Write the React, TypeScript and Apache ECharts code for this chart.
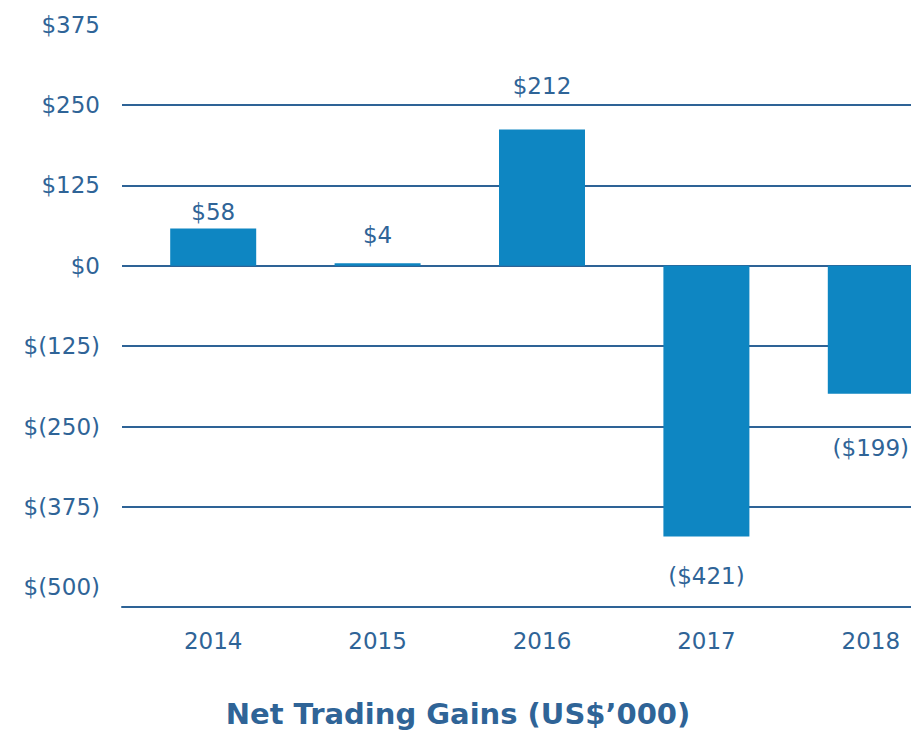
import React, { useEffect, useRef } from "react";
import * as echarts from "echarts";

const years = ["2014", "2015", "2016", "2017", "2018"];
const gains = [58, 4, 212, -421, -199];
const yMin = -500;
const yMax = 375;
const yStep = 125;
const titleText = "Net Trading Gains (US$’000)";

const TEXT = "#2f6497";
const LINE = "#2e6396";
const BAR = "#0e86c2";
const FONT = "DejaVu Sans";
// label gaps from bar ends (styling only)
const LABEL_GAP = [5, 17, 32, 28, 43];

const axisFmt = (v: number) => (v >= 0 ? `$${v}` : `$(${-v})`);
const barFmt = (v: number) => (v >= 0 ? `$${v}` : `($${-v})`);

export default function App() {
  const ref = useRef<HTMLDivElement>(null);
  useEffect(() => {
    if (!ref.current) return;
    const chart = echarts.init(ref.current, null, { renderer: "svg" });
    const top = 24.6;
    const height = 562.8;
    chart.setOption({
      animation: false,
      backgroundColor: "#ffffff",
      textStyle: { fontFamily: FONT },
      title: {
        text: titleText,
        left: 458,
        textAlign: "center",
        top: 699,
        padding: 0,
        textStyle: { fontFamily: FONT, fontSize: 29, lineHeight: 29, fontWeight: "bold", color: TEXT },
      },
      grid: [
        { left: 122, top, height, width: 900 },
        { left: 131, top, height, width: 822 },
      ],
      xAxis: [
        {
          gridIndex: 0,
          type: "value",
          min: 0,
          max: 1,
          offset: 19,
          axisLine: { show: true, onZero: false, lineStyle: { color: LINE, width: 2 } },
          axisTick: { show: false },
          axisLabel: { show: false },
          splitLine: { show: false },
        },
        {
          gridIndex: 1,
          type: "category",
          data: years,
          axisLine: { show: false },
          axisTick: { show: false },
          axisLabel: { fontSize: 23, color: TEXT, fontFamily: FONT, margin: 42 },
        },
      ],
      yAxis: [
        {
          gridIndex: 0,
          type: "value",
          min: yMin,
          max: yMax,
          interval: yStep,
          axisLine: { show: false },
          axisTick: { show: false },
          axisLabel: { fontSize: 23, color: TEXT, fontFamily: FONT, margin: 22, formatter: axisFmt },
          splitLine: { show: true, showMinLine: false, showMaxLine: false, lineStyle: { color: LINE, width: 2 } },
        },
        {
          gridIndex: 1,
          type: "value",
          min: yMin,
          max: yMax,
          interval: yStep,
          show: false,
          splitLine: { show: false },
        },
      ],
      series: [
        {
          type: "bar",
          xAxisIndex: 1,
          yAxisIndex: 1,
          barWidth: 86,
          itemStyle: { color: BAR },
          data: gains.map((v, i) => ({
            value: v,
            label: { position: v >= 0 ? "top" : "bottom", distance: LABEL_GAP[i] },
          })),
          label: {
            show: true,
            fontSize: 23,
            color: TEXT,
            fontFamily: FONT,
            formatter: (p: any) => barFmt(p.value),
          },
        },
      ],
    });
    return () => chart.dispose();
  }, []);
  return (
    <div style={{ position: "fixed", left: 0, top: 0, width: 911, height: 730, overflow: "hidden", background: "#fff" }}>
      <div ref={ref} style={{ width: 1060, height: 730 }} />
    </div>
  );
}
